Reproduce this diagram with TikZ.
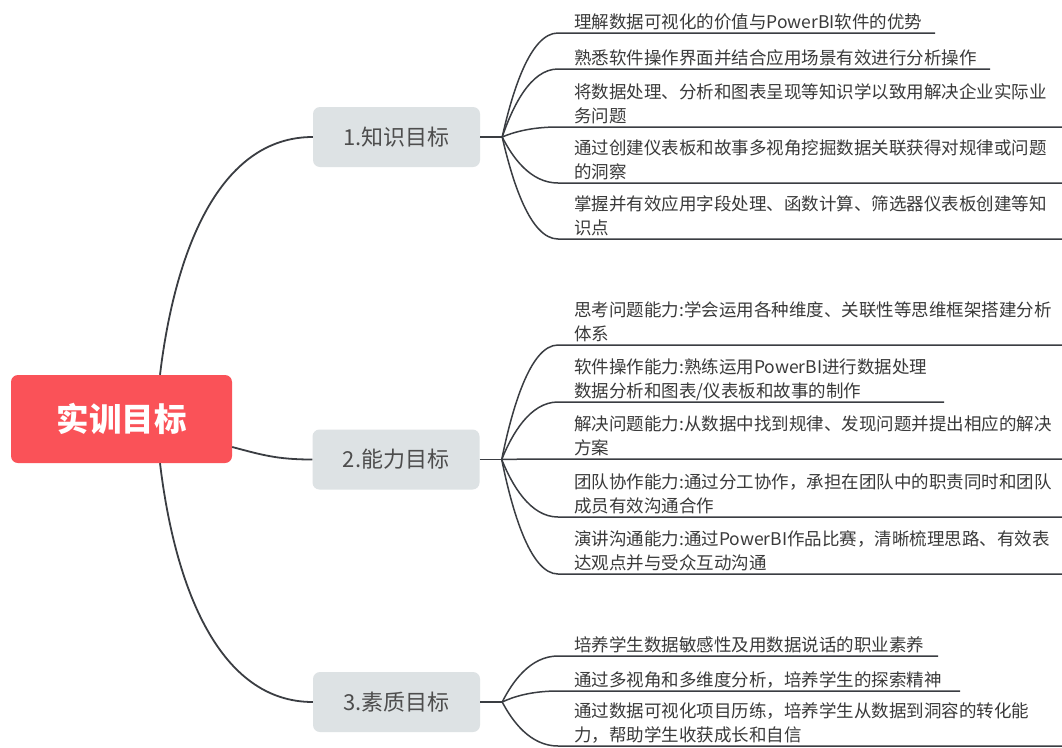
\documentclass[tikz,border=0pt]{standalone}
\usepackage{fontspec}
\setmainfont{Noto Sans CJK SC}
\usetikzlibrary{calc}
\definecolor{rootred}{HTML}{FA5258}
\definecolor{branchgray}{HTML}{DDE2E4}
\definecolor{linec}{HTML}{3A3D42}
\definecolor{leaftxt}{HTML}{3A3A3A}
\definecolor{branchtxt}{HTML}{4D4D4D}
\begin{document}
\begin{tikzpicture}[x=1pt,y=-1pt,
  rootbox/.style={fill=rootred, rounded corners=7pt, minimum width=221pt, minimum height=88pt, inner sep=0pt, text=white, font=\fontsize{32.5}{36}\selectfont\bfseries},
  branchbox/.style={fill=branchgray, rounded corners=7pt, minimum width=167pt, minimum height=60pt, inner sep=0pt, text=branchtxt, font=\fontsize{22}{26}\selectfont},
  leaf/.style={anchor=south west, inner sep=0pt, text depth=0pt, align=left, text=leaftxt, font=\fontsize{17.5}{24.5}\selectfont},
  conn/.style={draw=linec, line width=1.8pt},
  lconn/.style={draw=linec, line width=1.5pt},
  mcurve/.style n args={3}{to path={.. controls ($(\tikztostart)!#1!(\tikztostart|-\tikztotarget)+(#2,0)$) and ($(\tikztotarget)!#3!(\tikztostart|-\tikztotarget)$) .. (\tikztotarget)}}
]
\fill[white] (0,0) rectangle (1062,747);
\useasboundingbox (0,0) rectangle (1062,747);

% main nodes
\node[rootbox] (root) at (121.5,419) {实训目标};
\node[branchbox] (b1) at (396.5,137) {1.知识目标};
\node[branchbox] (b2) at (396,459.5) {2.能力目标};
\node[branchbox] (b3) at (396.5,702) {3.素质目标};

\coordinate (r1) at ($(root.north)+(38.5,0)$);
\coordinate (r2) at ($(root.east)+(0,28)$);
\coordinate (r3) at ($(root.south)+(38.5,0)$);
\draw[conn] (r1) to[mcurve={0.525}{15}{0.61}] (b1.west);
\draw[conn] (r2) .. controls +(30,8) and +(-35,0) .. (b2.west);
\draw[conn] (r3) to[mcurve={0.525}{15}{0.61}] (b3.west);

% junctions
\coordinate (j1) at ($(b1.east)+(22,0)$);
\coordinate (j2) at ($(b2.east)+(22,0)$);
\coordinate (j3) at ($(b3.east)+(22,0)$);
\draw[lconn] (b1.east) -- (j1);
\draw[lconn] (b2.east) -- (j2);
\draw[lconn] (b3.east) -- (j3);

% group 1
\coordinate (l11) at (558,33);  \coordinate (e11) at (935,33);
\coordinate (l12) at (558,69);  \coordinate (e12) at (990,69);
\coordinate (l13) at (558,127); \coordinate (e13) at (1062,127);
\coordinate (l14) at (558,183); \coordinate (e14) at (1062,183);
\coordinate (l15) at (558,239); \coordinate (e15) at (1062,239);
\node[leaf] (t11) at ($(l11)+(16,-4)$) {理解数据可视化的价值与PowerBI软件的优势};
\node[leaf] (t12) at ($(l12)+(16,-4)$) {熟悉软件操作界面并结合应用场景有效进行分析操作};
\node[leaf] (t13) at ($(l13)+(16,-4)$) {将数据处理、分析和图表呈现等知识学以致用解决企业实际业\\务问题};
\node[leaf] (t14) at ($(l14)+(16,-4)$) {通过创建仪表板和故事多视角挖掘数据关联获得对规律或问题\\的洞察};
\node[leaf] (t15) at ($(l15)+(16,-4)$) {掌握并有效应用字段处理、函数计算、筛选器仪表板创建等知\\识点};
\foreach \i in {11,12,13,14,15}
  \draw[lconn] (j1) to[mcurve={0.43}{10}{0.5}] (l\i) -- (e\i);

% group 2
\coordinate (l21) at (558,345); \coordinate (e21) at (1062,345);
\coordinate (l22) at (558,402); \coordinate (e22) at (944,402);
\coordinate (l23) at (558,459); \coordinate (e23) at (1062,459);
\coordinate (l24) at (558,517); \coordinate (e24) at (1062,517);
\coordinate (l25) at (558,574); \coordinate (e25) at (1062,574);
\node[leaf] (t21) at ($(l21)+(16,-4)$) {思考问题能力:学会运用各种维度、关联性等思维框架搭建分析\\体系};
\node[leaf] (t22) at ($(l22)+(16,-4)$) {软件操作能力:熟练运用PowerBI进行数据处理\\数据分析和图表/仪表板和故事的制作};
\node[leaf] (t23) at ($(l23)+(16,-4)$) {解决问题能力:从数据中找到规律、发现问题并提出相应的解决\\方案};
\node[leaf] (t24) at ($(l24)+(16,-4)$) {团队协作能力:通过分工协作，承担在团队中的职责同时和团队\\成员有效沟通合作};
\node[leaf] (t25) at ($(l25)+(16,-4)$) {演讲沟通能力:通过PowerBI作品比赛，清晰梳理思路、有效表\\达观点并与受众互动沟通};
\foreach \i in {21,22,23,24,25}
  \draw[lconn] (j2) to[mcurve={0.43}{10}{0.5}] (l\i) -- (e\i);

% group 3
\coordinate (l31) at (558,656); \coordinate (e31) at (938,656);
\coordinate (l32) at (558,691); \coordinate (e32) at (960,691);
\coordinate (l33) at (558,746); \coordinate (e33) at (1062,746);
\node[leaf] (t31) at ($(l31)+(16,-4)$) {培养学生数据敏感性及用数据说话的职业素养};
\node[leaf] (t32) at ($(l32)+(16,-4)$) {通过多视角和多维度分析，培养学生的探索精神};
\node[leaf] (t33) at ($(l33)+(16,-4)$) {通过数据可视化项目历练，培养学生从数据到洞容的转化能\\力，帮助学生收获成长和自信};
\foreach \i in {31,32,33}
  \draw[lconn] (j3) to[mcurve={0.43}{10}{0.5}] (l\i) -- (e\i);
\end{tikzpicture}
\end{document}
